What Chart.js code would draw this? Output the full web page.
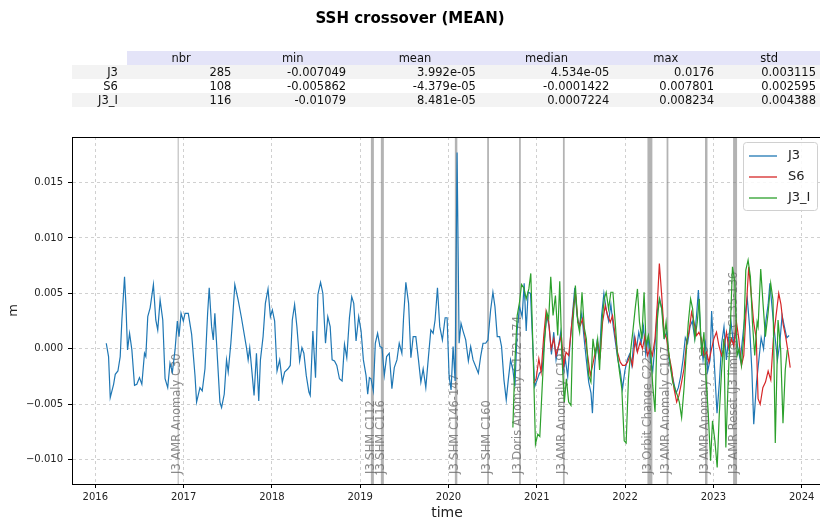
<!DOCTYPE html>
<html><head><meta charset="utf-8">
<script src="https://cdn.jsdelivr.net/npm/chart.js@4"></script>
<style>
html,body{margin:0;padding:0;background:#fff;overflow:hidden;width:820px;height:524px;}
#wrap{position:relative;width:820px;height:524px;overflow:hidden;background:#fff;}
#c{position:absolute;left:0;top:0;}
#title{position:absolute;left:0;width:820px;top:9px;text-align:center;font:bold 15px "DejaVu Sans";color:#000;}
#tbl{position:absolute;left:72px;top:51px;border-collapse:collapse;font:11.5px "DejaVu Sans";color:#111;table-layout:fixed;}
#tbl td,#tbl th{height:14px;padding:0;line-height:14px;white-space:nowrap;font-weight:normal;}
#tbl th{background:#e4e4f8;text-align:center;}
#tbl th.blank{background:transparent;}
#tbl td{text-align:right;padding-right:4px;}
#tbl td.rl{padding-right:9px;}
#tbl tr.shade td{background:#f3f3f3;}
</style></head>
<body><div id="wrap">
<canvas id="c" width="830" height="524"></canvas>
<div id="title">SSH crossover (MEAN)</div>
<table id="tbl"></table>
</div>
<script>
// ---- table data ----
const statColumns = ['nbr','min','mean','median','max','std'];
const statRowNames = ['J3','S6','J3_I'];
const statJ3  = ['285','-0.007049','3.992e-05','4.534e-05','0.0176','0.003115'];
const statS6  = ['108','-0.005862','-4.379e-05','-0.0001422','0.007801','0.002595'];
const statJ3I = ['116','-0.01079','8.481e-05','0.0007224','0.008234','0.004388'];

// ---- series data (decimal years, metres) ----
const j3Dates = [
2016.124,2016.150,2016.169,2016.207,2016.226,2016.256,2016.282,2016.301,2016.331,2016.346,2016.365,2016.388,2016.414,2016.444,2016.470,2016.500,2016.527,2016.557,2016.572,2016.594,2016.621,2016.658,2016.685,2016.707,2016.734,2016.764,2016.790,2016.820,2016.846,2016.873,2016.903,2016.929,2016.948,2016.971,2016.997,2017.016,2017.053,2017.091,2017.129,2017.147,2017.185,2017.211,2017.242,2017.272,2017.290,2017.317,2017.336,2017.354,2017.384,2017.411,2017.430,2017.460,2017.486,2017.505,2017.535,2017.554,2017.580,2017.618,2017.655,2017.712,2017.731,2017.749,2017.798,2017.825,2017.851,2017.870,2017.900,2017.926,2017.956,2017.983,
2018.005,2018.031,2018.058,2018.088,2018.118,2018.144,2018.182,2018.208,2018.231,2018.257,2018.283,2018.314,2018.340,2018.362,2018.389,2018.419,2018.434,2018.464,2018.494,2018.521,2018.551,2018.577,2018.607,2018.633,2018.660,2018.682,2018.709,2018.735,2018.765,2018.795,2018.822,2018.848,2018.878,2018.904,2018.927,2018.953,2018.983,2019.010,2019.036,2019.066,2019.085,2019.104,2019.122,2019.149,2019.171,2019.197,2019.224,2019.247,2019.273,2019.299,2019.329,2019.359,2019.386,2019.416,2019.442,2019.472,2019.491,2019.517,2019.548,2019.574,2019.600,2019.630,2019.660,2019.687,2019.713,2019.743,2019.773,2019.800,2019.826,2019.848,2019.875,2019.901,2019.931,2019.962,2019.984,
2020.007,2020.029,2020.052,2020.075,2020.097,2020.120,2020.142,2020.165,2020.195,2020.225,2020.251,2020.278,2020.308,2020.338,2020.364,2020.391,2020.421,2020.447,2020.477,2020.503,2020.526,2020.552,2020.579,2020.601,2020.628,2020.654,2020.677,2020.703,2020.729,2020.752,2020.778,2020.804,2020.834,2020.857,2020.880,2020.902,2020.929,2020.955,2020.977,
2021.004,2021.030,2021.060,2021.087,2021.113,2021.140,2021.166,2021.192,2021.218,2021.245,2021.271,2021.298,2021.324,2021.350,2021.377,2021.403,2021.430,2021.456,2021.482,2021.509,2021.535,2021.561,2021.588,2021.614,2021.630,2021.655,2021.681,2021.708,2021.734,2021.760,2021.787,2021.813,2021.839,2021.866,2021.892,2021.918,2021.945,2021.971,2021.997,
2022.024,2022.050,2022.076,2022.103,2022.129,2022.155,2022.182,2022.208,2022.234,2022.261,2022.287,2022.313,2022.340,2022.366,2022.392,2022.419,2022.445,2022.471,2022.498,2022.524,2022.550,2022.577,2022.603,2022.629,2022.656,2022.682,2022.708,2022.735,2022.761,2022.787,2022.814,2022.830,2022.857,2022.883,2022.909,2022.936,2022.962,2022.980,
2023.015,2023.041,2023.068,2023.094,2023.120,2023.147,2023.173,2023.199,2023.226,2023.252,2023.278,2023.305,2023.331,2023.357,2023.384,2023.410,2023.436,2023.457,2023.489,2023.515,2023.541,2023.568,2023.594,2023.620,2023.640,2023.673,2023.699,2023.725,2023.752,2023.778,2023.804,2023.831,2023.857];
const j3Values = [
0.0005,-0.0007,-0.0044,-0.0032,-0.0023,-0.0020,-0.0007,0.0026,0.0065,0.0041,-0.0001,0.0014,-0.0001,-0.0033,-0.0032,-0.0026,-0.0032,-0.0004,-0.0007,0.0029,0.0037,0.0058,0.0026,0.0017,0.0044,0.0026,-0.0027,-0.0035,-0.0013,-0.0021,-0.0001,0.0025,0.0011,0.0032,0.0025,0.0032,0.0032,0.0013,-0.0024,-0.0048,-0.0035,-0.0038,-0.0018,0.0032,0.0055,0.0020,0.0008,0.0032,-0.0010,-0.0048,-0.0053,-0.0041,-0.0010,-0.0021,0.0005,0.0026,0.0058,0.0044,0.0028,0.0001,-0.0010,0.0001,-0.0042,-0.0004,-0.0047,-0.0010,0.0011,0.0041,0.0054,0.0029,
0.0035,0.0025,-0.0020,-0.0010,-0.0030,-0.0021,-0.0018,-0.0015,0.0026,0.0040,0.0020,-0.0011,0.0001,-0.0004,-0.0024,-0.0039,-0.0042,0.0016,-0.0026,0.0049,0.0060,0.0050,0.0005,0.0029,0.0020,-0.0010,-0.0011,-0.0015,-0.0027,-0.0029,0.0004,-0.0008,0.0028,0.0047,0.0041,0.0007,0.0029,0.0016,-0.0010,-0.0024,-0.0041,-0.0026,-0.0027,-0.0038,0.0005,0.0014,0.0002,0.0001,-0.0024,-0.0007,-0.0004,-0.0036,-0.0017,-0.0010,0.0005,-0.0004,0.0028,0.0060,0.0041,-0.0008,0.0011,0.0011,-0.0010,-0.0030,-0.0018,-0.0035,-0.0007,0.0017,0.0014,0.0026,0.0055,0.0020,0.0008,0.0028,0.0028,
-0.0025,-0.0037,0.0002,-0.0029,0.0177,0.0005,0.0023,0.0016,0.0008,-0.0011,0.0002,-0.0010,-0.0016,-0.0022,-0.0007,0.0005,0.0005,0.0008,0.0035,0.0051,0.0038,0.0011,0.0011,0.0002,-0.0028,-0.0046,-0.0028,-0.0010,-0.0019,-0.0034,0.0017,0.0038,0.0029,0.0059,0.0016,0.0051,0.0050,0.0002,-0.0034,
-0.0028,-0.0022,-0.0020,0.0010,0.0030,0.0020,-0.0005,0.0015,-0.0010,0.0002,0.0015,-0.0020,-0.0010,-0.0025,0.0005,0.0030,0.0055,0.0030,0.0020,0.0032,0.0010,-0.0010,-0.0030,-0.0040,-0.0058,-0.0015,0.0005,-0.0010,0.0030,0.0050,0.0035,0.0025,0.0040,0.0020,0.0005,-0.0010,-0.0020,-0.0036,-0.0020,
-0.0010,-0.0005,-0.0015,0.0012,0.0000,0.0015,0.0005,0.0020,-0.0005,0.0010,-0.0010,-0.0020,0.0005,0.0035,0.0045,0.0035,0.0010,0.0015,-0.0010,-0.0020,-0.0030,-0.0040,-0.0035,-0.0025,-0.0010,0.0010,0.0005,0.0020,0.0025,0.0010,0.0035,0.0053,0.0010,-0.0010,0.0005,-0.0020,-0.0010,0.0034,
-0.0020,-0.0058,-0.0030,0.0005,0.0020,-0.0010,0.0010,0.0025,0.0005,0.0015,0.0000,-0.0010,0.0010,0.0030,0.0045,0.0020,-0.0020,-0.0068,-0.0030,-0.0010,0.0010,0.0000,0.0025,0.0040,0.0059,0.0030,0.0010,-0.0010,0.0005,0.0030,0.0020,0.0010,0.0012];

const s6Dates = [
2020.966,2020.992,2021.023,2021.049,2021.079,2021.105,2021.135,2021.162,2021.192,2021.218,2021.248,2021.278,2021.305,2021.331,2021.361,2021.387,2021.414,2021.437,2021.467,2021.493,2021.519,2021.549,2021.576,2021.606,2021.632,2021.662,2021.689,2021.719,2021.745,2021.775,2021.802,2021.832,2021.858,2021.888,2021.914,2021.945,2021.971,
2022.001,2022.027,2022.057,2022.084,2022.114,2022.140,2022.170,2022.197,2022.226,2022.253,2022.283,2022.309,2022.339,2022.366,2022.388,2022.415,2022.441,2022.471,2022.497,2022.527,2022.554,2022.584,2022.610,2022.640,2022.667,2022.697,2022.723,2022.753,2022.780,2022.810,2022.836,2022.866,2022.893,2022.923,2022.949,2022.979,
2023.005,2023.035,2023.062,2023.092,2023.118,2023.148,2023.175,2023.205,2023.231,2023.261,2023.288,2023.318,2023.344,2023.374,2023.400,2023.430,2023.456,2023.486,2023.506,2023.530,2023.560,2023.590,2023.620,2023.650,2023.680,2023.710,2023.740,2023.765,2023.790,2023.820,2023.850,2023.870];
const s6Values = [
-0.0031,-0.0027,-0.0009,-0.0021,0.0012,0.0034,0.0024,0.0000,0.0009,-0.0006,0.0003,0.0012,-0.0015,-0.0003,-0.0006,0.0015,0.0036,0.0051,0.0024,0.0021,0.0027,0.0009,-0.0006,-0.0024,-0.0015,-0.0003,0.0006,-0.0006,0.0024,0.0039,0.0030,0.0024,0.0030,0.0012,-0.0003,-0.0012,-0.0015,
-0.0015,-0.0012,-0.0006,-0.0015,0.0009,-0.0003,0.0006,0.0000,0.0012,-0.0006,0.0000,-0.0006,0.0009,0.0042,0.0077,0.0048,0.0015,0.0009,-0.0006,-0.0018,-0.0036,-0.0048,-0.0042,-0.0030,-0.0018,0.0006,0.0015,0.0033,0.0024,0.0012,0.0015,0.0009,-0.0006,-0.0003,-0.0012,0.0000,
0.0009,0.0015,0.0003,-0.0006,0.0000,0.0015,0.0000,0.0009,0.0003,0.0024,0.0009,-0.0015,-0.0006,0.0039,0.0074,0.0048,0.0024,0.0009,-0.0045,-0.0050,-0.0035,-0.0030,-0.0020,-0.0028,0.0010,0.0030,0.0050,0.0040,0.0022,0.0010,-0.0005,-0.0017];

const j3iDates = [
2020.729,2020.752,2020.778,2020.804,2020.827,2020.853,2020.880,2020.910,2020.932,2020.959,2020.985,
2021.011,2021.034,2021.060,2021.087,2021.113,2021.135,2021.158,2021.184,2021.211,2021.237,2021.260,2021.286,2021.312,2021.335,2021.361,2021.387,2021.410,2021.437,2021.463,2021.485,2021.512,2021.538,2021.561,2021.587,2021.613,2021.636,2021.662,2021.689,2021.711,2021.738,2021.764,2021.786,2021.813,2021.839,2021.862,2021.888,2021.914,2021.937,2021.963,2021.990,
2022.012,2022.038,2022.065,2022.087,2022.114,2022.140,2022.163,2022.189,2022.215,2022.238,2022.264,2022.291,2022.313,2022.339,2022.366,2022.388,2022.415,2022.441,2022.464,2022.490,2022.516,2022.539,2022.565,2022.592,2022.614,2022.640,2022.667,2022.690,2022.716,2022.742,2022.765,2022.791,2022.817,2022.840,2022.866,2022.893,2022.915,2022.941,2022.968,2022.990,
2023.017,2023.043,2023.066,2023.092,2023.118,2023.141,2023.167,2023.194,2023.216,2023.243,2023.269,2023.291,2023.318,2023.344,2023.367,2023.393,2023.419,2023.442,2023.468,2023.495,2023.506,2023.536,2023.562,2023.589,2023.619,2023.649,2023.675,2023.701,2023.732,2023.762,2023.788,2023.814,2023.837];
const j3iValues = [
-0.0071,-0.0012,0.0030,0.0042,0.0058,0.0055,0.0045,0.0054,0.0068,-0.0006,-0.0086,
-0.0077,-0.0079,-0.0036,0.0006,0.0033,0.0027,0.0065,0.0030,0.0048,0.0012,0.0061,-0.0009,-0.0048,-0.0027,-0.0048,-0.0051,0.0024,0.0057,0.0024,0.0015,0.0051,0.0019,0.0009,-0.0024,-0.0030,0.0009,-0.0006,0.0009,-0.0019,0.0025,0.0045,0.0051,0.0036,0.0051,0.0051,0.0024,-0.0006,-0.0021,-0.0036,-0.0083,
-0.0085,-0.0027,0.0000,0.0015,0.0036,0.0054,0.0024,0.0009,0.0051,0.0003,0.0012,-0.0003,-0.0033,-0.0057,0.0027,0.0045,0.0036,0.0009,0.0024,0.0000,-0.0018,-0.0030,-0.0036,-0.0042,-0.0048,-0.0062,-0.0036,-0.0006,0.0024,0.0045,0.0036,0.0009,0.0024,0.0045,-0.0006,0.0015,-0.0024,-0.0057,-0.0101,-0.0065,
-0.0083,-0.0107,-0.0060,-0.0021,0.0009,-0.0089,-0.0030,0.0024,0.0074,0.0060,-0.0006,0.0000,-0.0015,0.0012,0.0071,0.0080,0.0065,0.0024,-0.0006,0.0024,0.0020,0.0072,0.0041,0.0011,0.0032,0.0059,0.0044,-0.0085,0.0026,-0.0001,-0.0067,-0.0019,-0.0001];

// ---- events (decimal-year spans) ----
const eventLabels = ['J3 AMR Anomaly C30','J3 SHM C112','J3 SHM C116','J3 SHM C146-147','J3 SHM C160','J3 Doris Anomaly C172-174','J3 AMR Anomaly C191','J3 Orbit Change C227','J3 AMR Anomaly C107','J3 AMR Anomaly C123','J3 AMR Reset (J3 limited) C135-136'];
const eventStarts = [2016.932,2019.121,2019.234,2020.072,2020.438,2020.799,2021.296,2022.253,2022.470,2022.905,2023.223];
const eventEnds   = [2016.944,2019.155,2019.268,2020.100,2020.458,2020.819,2021.316,2022.309,2022.490,2022.933,2023.268];

const xTickYears = [2016,2017,2018,2019,2020,2021,2022,2023,2024];

// ---- build table ----
(function(){
  const t = document.getElementById('tbl');
  const widths = [55,109,115,130,134,105,102];
  let cg = '<colgroup>' + widths.map(w=>'<col style="width:'+w+'px">').join('') + '</colgroup>';
  let h = '<tr><th class="blank"></th>' + statColumns.map(c=>'<th>'+c+'</th>').join('') + '</tr>';
  const rows = [statJ3, statS6, statJ3I];
  rows.forEach((r,i)=>{
    h += '<tr class="'+(i===1?'':'shade')+'"><td class="rl">'+statRowNames[i]+'</td>' + r.map(v=>'<td>'+v+'</td>').join('') + '</tr>';
  });
  t.innerHTML = cg + h;
})();

const toXY = (xs, ys) => xs.map((x,i)=>({x:x, y:ys[i]}));
const colors = {J3:'#1f77b4', S6:'#d62728', J3_I:'#2ca02c'};

const decor = {
  id:'decor',
  beforeDatasetsDraw(chart){
    const {ctx, chartArea:a, scales:{x}} = chart;
    ctx.save();
    ctx.beginPath(); ctx.rect(a.left,a.top,a.right-a.left,a.bottom-a.top); ctx.clip();
    eventStarts.forEach((s,i)=>{
      const x0 = x.getPixelForValue(s), x1 = x.getPixelForValue(eventEnds[i]);
      ctx.fillStyle = i===0 ? 'rgba(140,140,140,0.55)' : 'rgba(128,128,128,0.6)';
      ctx.fillRect(x0, a.top, Math.max(x1-x0,1.2), a.bottom-a.top);
    });
    ctx.fillStyle = 'rgba(110,110,110,0.8)';
    ctx.font = '11.5px "DejaVu Sans"';
    ctx.textAlign = 'left'; ctx.textBaseline = 'alphabetic';
    eventStarts.forEach((s,i)=>{
      const xc = (x.getPixelForValue(s)+x.getPixelForValue(eventEnds[i]))/2;
      ctx.save();
      ctx.translate(xc+1.5, a.bottom-10);
      ctx.rotate(-Math.PI/2);
      ctx.fillText(eventLabels[i], 0, 0);
      ctx.restore();
    });
    ctx.restore();
  },
  afterDraw(chart){
    const {ctx, chartArea:a} = chart;
    ctx.save();
    ctx.strokeStyle = '#000'; ctx.lineWidth = 1;
    ctx.beginPath();
    ctx.moveTo(a.left, a.top+0.5); ctx.lineTo(a.right, a.top+0.5);
    ctx.moveTo(a.right-0.5, a.top); ctx.lineTo(a.right-0.5, a.bottom);
    ctx.stroke();
    // legend
    const bx = a.right-79, by = a.top+5, bw = 74, bh = 68;
    ctx.fillStyle = 'rgba(255,255,255,0.85)';
    ctx.strokeStyle = '#d0d0d0';
    ctx.beginPath();
    ctx.roundRect(bx+0.5, by+0.5, bw, bh, 3);
    ctx.fill(); ctx.stroke();
    const names = ['J3','S6','J3_I'];
    ctx.font = '13px "DejaVu Sans"'; ctx.textBaseline = 'middle'; ctx.textAlign='left';
    names.forEach((n,i)=>{
      const yy = by + 14 + i*21;
      ctx.strokeStyle = colors[n]; ctx.lineWidth = 1.3;
      ctx.beginPath(); ctx.moveTo(bx+6, yy); ctx.lineTo(bx+34, yy); ctx.stroke();
      ctx.fillStyle = '#222';
      ctx.fillText(n, bx+45, yy);
    });
    ctx.restore();
  }
};

const tickFont = {family:'DejaVu Sans', size:10};
new Chart(document.getElementById('c'), {
  type:'line',
  data:{datasets:[
    {label:'J3', data:toXY(j3Dates,j3Values), borderColor:colors.J3, borderWidth:1.2, pointRadius:0, tension:0, order:3},
    {label:'S6', data:toXY(s6Dates,s6Values), borderColor:colors.S6, borderWidth:1.2, pointRadius:0, tension:0, order:2},
    {label:'J3_I', data:toXY(j3iDates,j3iValues), borderColor:colors.J3_I, borderWidth:1.2, pointRadius:0, tension:0, order:1}
  ]},
  options:{
    responsive:false, animation:false, devicePixelRatio:1,
    layout:{padding:{top:137,right:8,bottom:0,left:0}},
    plugins:{legend:{display:false}, tooltip:{enabled:false}, title:{display:false}},
    scales:{
      x:{type:'linear', min:2015.736, max:2024.23,
        afterFit(s){ s.height = 40; },
        afterBuildTicks(s){ s.ticks = xTickYears.map(v=>({value:v})); },
        ticks:{padding:3, color:'#222', font:tickFont, maxRotation:0, autoSkip:false, callback:v=>String(Math.round(v))},
        grid:{color:'#c4c4c4', lineWidth:0.8, tickLength:4, tickColor:'#000', tickWidth:1},
        border:{color:'#000', width:1, dash:[3,3]},
        title:{display:true, text:'time', color:'#222', font:{family:'DejaVu Sans', size:14}, padding:{top:0,bottom:2}}
      },
      y:{min:-0.01219, max:0.0191,
        afterFit(s){ s.width = 72; },
        ticks:{stepSize:0.005, includeBounds:false, padding:5, color:'#222', font:tickFont,
          callback:v=>{const r=Math.round(v*1000)/1000; return (r<0?'\u2212':'')+Math.abs(r).toFixed(3);}},
        grid:{color:'#c4c4c4', lineWidth:0.8, tickLength:4, tickColor:'#000', tickWidth:1},
        border:{color:'#000', width:1, dash:[3,3]},
        title:{display:true, text:'m', color:'#222', font:{family:'DejaVu Sans', size:13}, padding:{top:6,bottom:0}}
      }
    }
  },
  plugins:[decor]
});
</script>
</body></html>
